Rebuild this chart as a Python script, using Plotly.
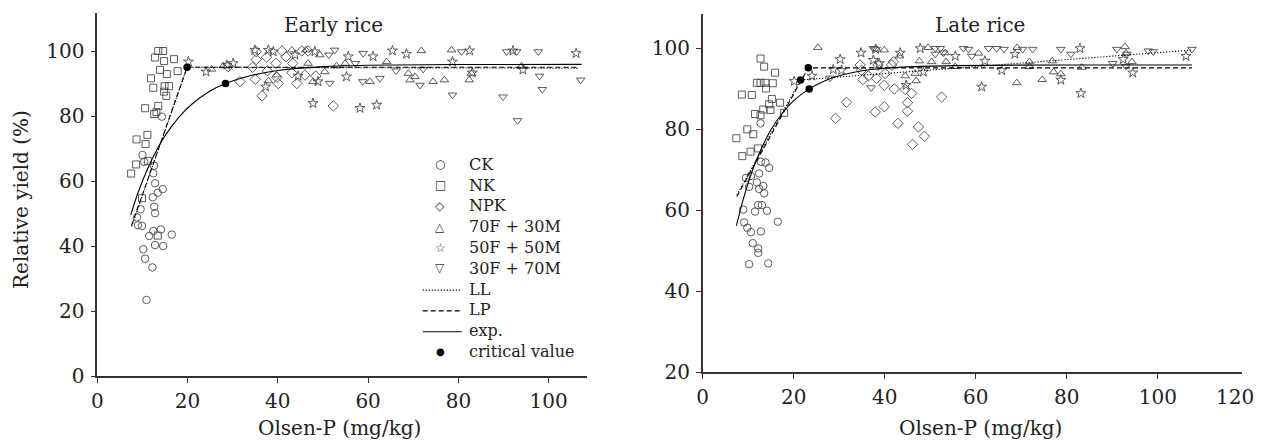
import plotly.graph_objects as go

# ---------------- Early rice data ----------------
e_ck_x = [10.0, 10.4, 12.6, 12.4, 12.8, 14.5, 13.4, 12.3, 12.6, 12.8, 9.6, 8.8, 9.0, 9.9, 11.5, 12.4, 14.1, 16.5, 12.8, 14.6, 10.2, 10.6, 12.2, 10.9, 14.3]
e_ck_y = [68.0, 65.9, 64.7, 62.4, 59.3, 57.5, 56.4, 55.0, 52.1, 50.1, 51.3, 48.8, 46.4, 46.2, 43.1, 44.6, 45.1, 43.5, 40.3, 40.0, 39.0, 36.1, 33.4, 23.4, 79.8]

e_nk_x = [7.5, 8.6, 8.7, 10.7, 11.1, 10.6, 12.6, 13.5, 13.1, 11.9, 12.4, 12.8, 13.5, 14.6, 14.8, 13.9, 15.4, 14.9, 15.9, 14.8, 15.3, 17.0, 17.8, 11.2, 9.9, 13.4]
e_nk_y = [62.3, 65.1, 72.8, 71.4, 74.2, 82.4, 80.6, 83.1, 81.2, 91.6, 88.7, 98.0, 100.0, 100.0, 96.9, 94.2, 92.9, 89.2, 89.2, 87.5, 86.2, 97.5, 93.8, 66.2, 54.7, 43.2]

e_npk_x = [29.0, 31.6, 34.4, 35.0, 35.2, 35.2, 36.5, 37.7, 37.5, 39.6, 40.1, 39.8, 40.9, 41.8, 43.3, 43.1, 44.2, 45.3, 46.0, 46.7, 48.4, 52.3]
e_npk_y = [95.2, 90.6, 95.0, 91.3, 97.4, 99.8, 86.2, 93.9, 98.1, 96.2, 90.0, 91.9, 100.0, 98.2, 96.2, 93.3, 90.0, 100.0, 92.6, 100.0, 92.3, 83.1]

e_t70_x = [25.3, 27.9, 37.9, 39.7, 43.1, 46.2, 46.7, 49.3, 47.8, 50.4, 53.0, 54.9, 60.4, 64.1, 71.8, 68.9, 69.3, 70.4, 74.4, 76.9, 78.5, 82.4, 82.9, 94.0]
e_t70_y = [94.4, 95.4, 90.8, 92.6, 100.3, 100.3, 96.2, 98.8, 90.6, 93.6, 95.4, 96.2, 90.6, 96.7, 100.1, 93.1, 91.1, 92.1, 90.6, 91.1, 100.3, 91.1, 93.1, 95.4]

e_t50_x = [20.2, 24.1, 28.7, 30.1, 34.9, 37.9, 39.0, 37.3, 43.8, 44.5, 47.8, 48.2, 48.9, 55.2, 55.6, 58.2, 61.1, 61.9, 65.4, 68.5, 78.7, 82.5, 83.1, 92.1, 94.3, 106.1]
e_t50_y = [96.7, 93.6, 95.7, 96.2, 100.3, 100.3, 99.8, 89.0, 98.8, 92.3, 83.9, 99.8, 90.6, 92.1, 98.3, 82.4, 98.3, 83.4, 100.1, 99.1, 96.7, 100.1, 93.3, 100.1, 94.2, 99.3]

e_t30_x = [51.3, 51.5, 52.6, 57.2, 58.9, 58.8, 62.6, 66.2, 72.2, 71.5, 78.7, 80.7, 89.9, 90.7, 92.9, 93.1, 97.7, 98.0, 98.6, 107.1]
e_t30_y = [98.8, 90.1, 100.3, 96.2, 99.3, 90.6, 91.6, 93.9, 94.4, 89.5, 86.5, 99.8, 85.9, 99.8, 99.8, 78.6, 99.8, 92.3, 88.2, 91.1]

# fitted models
e_ll_x = [7.6, 19.9, 106.7]
e_ll_y = [46.0, 95.0, 94.7]
e_lp_x = [7.6, 19.9, 106.7]
e_lp_y = [46.3, 95.0, 95.0]
e_exp_x = [7.4, 9, 11, 13, 15, 18, 21, 25, 28.4, 33, 40, 50, 60, 80, 107.3]
e_exp_y = [49.5, 56.3, 63.3, 69.1, 73.9, 79.5, 83.7, 87.7, 90.0, 92.1, 94.0, 95.2, 95.6, 95.86, 95.9]
e_crit_x = [19.9, 28.4]
e_crit_y = [95.0, 90.0]

# ---------------- Late rice data ----------------
l_ck_x = [9.5, 10.2, 10.6, 12.4, 12.8, 13.8, 14.6, 11.9, 13.3, 12.4, 13.5, 8.9, 12.2, 13.0, 11.5, 14.1, 16.5, 9.1, 9.8, 10.6, 12.8, 11.0, 12.2, 12.2, 10.2, 14.4, 12.7]
l_ck_y = [68.0, 65.8, 68.5, 69.1, 72.0, 71.8, 70.5, 66.9, 66.0, 65.3, 64.2, 60.2, 61.3, 61.3, 59.7, 59.9, 57.2, 57.0, 55.7, 54.6, 54.8, 51.9, 50.6, 49.5, 46.7, 46.9, 81.5]

l_nk_x = [7.4, 8.7, 8.6, 10.8, 9.8, 11.1, 10.5, 12.2, 12.7, 13.5, 11.9, 12.7, 13.8, 15.4, 13.9, 15.9, 11.5, 12.7, 13.3, 15.2, 14.6, 14.9, 17.0, 17.9]
l_nk_y = [77.8, 73.4, 88.6, 88.5, 80.0, 78.8, 74.5, 75.3, 97.5, 95.5, 91.5, 91.5, 91.5, 91.4, 90.1, 94.0, 83.8, 83.5, 84.9, 87.5, 86.2, 84.8, 86.6, 84.1]

l_npk_x = [29.2, 31.6, 37.9, 39.9, 42.9, 46.1, 47.4, 48.7, 45.0, 45.0, 45.9, 44.5, 42.1, 39.9, 38.2, 36.4, 35.2, 34.9, 34.6, 38.5, 40.1, 41.5, 52.5, 41.9]
l_npk_y = [82.7, 86.7, 84.3, 85.6, 81.5, 76.3, 80.6, 78.3, 84.5, 86.6, 88.9, 89.9, 90.0, 90.9, 92.6, 93.2, 92.3, 94.6, 95.9, 95.9, 93.8, 95.9, 88.0, 96.7]

l_t70_x = [25.3, 38.2, 39.9, 43.2, 44.5, 46.9, 47.6, 49.5, 50.3, 53.3, 53.5, 55.5, 46.7, 60.6, 69.1, 69.0, 71.8, 71.8, 74.6, 76.8, 77.1, 78.7, 83.3, 92.8, 93.0, 94.3]
l_t70_y = [100.2, 99.8, 99.6, 98.1, 93.2, 92.0, 96.9, 100.2, 96.7, 98.9, 96.7, 95.5, 93.8, 98.8, 100.2, 91.5, 96.7, 95.5, 92.3, 96.9, 94.2, 93.7, 95.3, 100.4, 98.8, 96.7]

l_t50_x = [20.1, 24.0, 30.2, 28.7, 30.5, 34.8, 37.5, 38.0, 38.8, 43.4, 44.7, 47.8, 48.5, 55.5, 61.3, 62.0, 68.6, 65.7, 82.9, 83.1, 78.7, 92.4, 94.5, 106.2]
l_t50_y = [91.9, 93.2, 97.3, 94.8, 94.6, 98.9, 97.1, 99.8, 96.3, 98.9, 90.9, 100.0, 94.2, 98.1, 90.5, 96.9, 98.6, 94.6, 100.0, 88.9, 92.2, 97.3, 94.0, 98.1]

l_t30_x = [28.0, 37.0, 37.5, 51.1, 52.2, 51.1, 52.9, 57.3, 58.4, 59.1, 62.8, 64.6, 66.2, 70.3, 72.5, 78.7, 80.9, 91.0, 93.2, 90.1, 97.9, 99.0, 107.5, 93.0]
l_t30_y = [92.7, 90.3, 100.0, 100.0, 100.0, 98.6, 98.9, 100.0, 99.8, 98.1, 100.0, 100.0, 99.8, 99.8, 99.8, 99.8, 98.6, 99.8, 98.6, 96.3, 99.4, 99.2, 99.8, 95.6]

l_ll_x = [7.5, 21.5, 107.5]
l_ll_y = [63.8, 92.2, 99.6]
l_lp_x = [7.5, 23.2, 107.5]
l_lp_y = [63.4, 95.2, 95.2]
l_exp_x = [7.4, 9, 11, 13, 15, 17.7, 20, 23.4, 27, 32, 38, 45, 55, 70, 90, 107.5]
l_exp_y = [56.2, 63.1, 70.1, 75.5, 79.9, 84.3, 87.1, 90.0, 92.1, 93.8, 94.9, 95.45, 95.76, 95.88, 95.9, 95.9]
l_crit_x = [21.5, 23.2, 23.4]
l_crit_y = [92.2, 95.2, 90.0]

groups = ["CK", "NK", "NPK", "70F + 30M", "50F + 50M", "30F + 70M"]
symbols = ["circle-open", "square-open", "diamond-open", "triangle-up-open", "star-open", "triangle-down-open"]
legend_glyphs = ["\u25CB", "\u25A1", "\u25C7", "\u25B3", "\u2606", "\u25BD"]
line_names = ["LL", "LP", "exp."]
crit_name = "critical value"

early = [(e_ck_x, e_ck_y), (e_nk_x, e_nk_y), (e_npk_x, e_npk_y), (e_t70_x, e_t70_y), (e_t50_x, e_t50_y), (e_t30_x, e_t30_y)]
late = [(l_ck_x, l_ck_y), (l_nk_x, l_nk_y), (l_npk_x, l_npk_y), (l_t70_x, l_t70_y), (l_t50_x, l_t50_y), (l_t30_x, l_t30_y)]

FONT = "DejaVu Serif"
MK = "#4a4a4a"
sizes = [7.5, 7, 8, 7.5, 7.5, 7.5]

# page body has an 8px offset: design in reference-pixel coordinates, then shift
OFF = 8
W, H = 1263 - OFF, 443 - OFF
def PX(x):
    return (x - OFF) / W
def PY(y):
    return 1 - (y - OFF) / H

fig = go.Figure()
for data, xa, ya in [(early, "x", "y"), (late, "x2", "y2")]:
    for g, sym, sz, (xs, ys) in zip(groups, symbols, sizes, data):
        fig.add_trace(go.Scatter(x=xs, y=ys, mode="markers", name=g, showlegend=False, xaxis=xa, yaxis=ya,
                                 marker=dict(symbol=sym, size=sz, color=MK, line=dict(width=0.9, color=MK))))

DOT = "1.2px,1.8px"
DASH = "5px,3px"
for xs, ys, dash, xa, ya in [(e_ll_x, e_ll_y, DOT, "x", "y"), (l_ll_x, l_ll_y, DOT, "x2", "y2"),
                             (e_lp_x, e_lp_y, DASH, "x", "y"), (l_lp_x, l_lp_y, DASH, "x2", "y2")]:
    fig.add_trace(go.Scatter(x=xs, y=ys, mode="lines", showlegend=False, xaxis=xa, yaxis=ya,
                             line=dict(color="black", width=1.1, dash=dash)))
for xs, ys, xa, ya in [(e_exp_x, e_exp_y, "x", "y"), (l_exp_x, l_exp_y, "x2", "y2")]:
    fig.add_trace(go.Scatter(x=xs, y=ys, mode="lines", showlegend=False, xaxis=xa, yaxis=ya,
                             line=dict(color="black", width=1.1, shape="spline")))
for xs, ys, xa, ya in [(e_crit_x, e_crit_y, "x", "y"), (l_crit_x, l_crit_y, "x2", "y2")]:
    fig.add_trace(go.Scatter(x=xs, y=ys, mode="markers", showlegend=False, xaxis=xa, yaxis=ya,
                             marker=dict(symbol="circle", size=7.5, color="black")))

axis_common = dict(showgrid=False, zeroline=False, showline=True, linecolor="#333", linewidth=1.5,
                   ticks="outside", ticklen=5, tickwidth=1.2, tickcolor="#333", automargin=False,
                   tickfont=dict(family=FONT, size=20, color="#222"))

fig.update_layout(
    template="none",
    width=W, height=H,
    margin=dict(l=0, r=0, t=0, b=0, autoexpand=False),
    paper_bgcolor="white", plot_bgcolor="white",
    font=dict(family=FONT, color="#222"),
    showlegend=False,
    xaxis=dict(domain=[PX(97.3), PX(587)], range=[0, 108.5], tickvals=[0, 20, 40, 60, 80, 100],
               anchor="y", ticklabelstandoff=1, **axis_common),
    yaxis=dict(domain=[PY(376), PY(13)], range=[0, 111.7], tickvals=[0, 20, 40, 60, 80, 100],
               anchor="x", ticklabelstandoff=2, **axis_common),
    xaxis2=dict(domain=[PX(702.7), PX(1242)], range=[0, 118.5], tickvals=[0, 20, 40, 60, 80, 100],
                anchor="y2", ticklabelstandoff=1, **axis_common),
    yaxis2=dict(domain=[PY(372.3), PY(14)], range=[20, 108.5], tickvals=[20, 40, 60, 80, 100],
                anchor="x2", ticklabelstandoff=2, **axis_common),
)

txt = dict(family=FONT, size=20, color="#222")
for text, x, y, ang in [("Early rice", 333, 25, 0), ("Late rice", 979.7, 25, 0),
                        ("Olsen-P (mg/kg)", 340, 428, 0), ("Olsen-P (mg/kg)", 980, 428, 0),
                        ("Relative yield (%)", 21, 200, -90), ("120", 1234.5, 396.5, 0)]:
    fig.add_annotation(xref="paper", yref="paper", x=PX(x), y=PY(y), text=text, textangle=ang,
                       showarrow=False, xanchor="center", yanchor="middle", font=txt)

# legend (drawn in the left panel)
row0, dy = 164.3, 20.8
sym_x, lab_x = 440, 466.7
leg_font = dict(family=FONT, size=16, color="#222")
labels = groups + line_names + [crit_name]
for i, lab in enumerate(labels):
    yy = row0 + dy * i
    fig.add_annotation(xref="paper", yref="paper", x=PX(lab_x), y=PY(yy), text=lab, showarrow=False,
                       xanchor="left", yanchor="middle", font=leg_font)
for i, gl in enumerate(legend_glyphs):
    yy = row0 + dy * i
    fig.add_annotation(xref="paper", yref="paper", x=PX(sym_x), y=PY(yy), text=gl, showarrow=False,
                       xanchor="center", yanchor="middle",
                       font=dict(family="DejaVu Sans", size=12, color="#333"))
for j in range(3):
    yy = row0 + dy * (6 + j) + 1
    fig.add_shape(type="line", xref="paper", yref="paper", x0=PX(422.7), x1=PX(461.7), y0=PY(yy), y1=PY(yy),
                  line=dict(color="black", width=1.1, dash=[DOT, DASH, "solid"][j]))
fig.add_annotation(xref="paper", yref="paper", x=PX(sym_x), y=PY(row0 + dy * 9), text="\u25CF", showarrow=False,
                   xanchor="center", yanchor="middle", font=dict(family="DejaVu Sans", size=10, color="black"))

fig.write_html("out.html")
